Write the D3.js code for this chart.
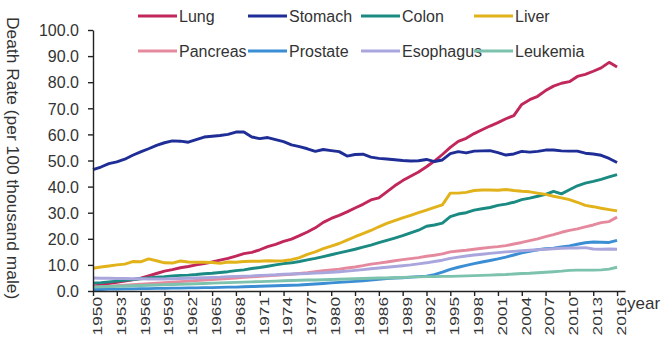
<!DOCTYPE html>
<html lang="en">
<head>
<meta charset="utf-8">
<title>Death Rate by Cancer Type</title>
<script src="https://cdn.jsdelivr.net/npm/d3@7"></script>
<style>
  body { margin: 0; background: #fff; font-family: "Liberation Sans", Arial, sans-serif; }
  svg { display: block; }
  .axis path, .axis line { stroke: #222; stroke-width: 1.4; }
  .axis text { fill: #333; font-size: 16px; font-family: "Liberation Sans", Arial, sans-serif; }
  .legend text { fill: #333; font-size: 16px; }
  .series { fill: none; stroke-width: 2.9; stroke-linejoin: round; }
</style>
</head>
<body>
<div id="chart"></div>
<script>

// data
const startYear = 1950;
const endYear = 2016;
const categories = ["Lung", "Stomach", "Colon", "Liver", "Pancreas", "Prostate", "Esophagus", "Leukemia"];
const colors = ["#c1275b", "#1f2d96", "#1b8a82", "#e2b21a", "#e58a9e", "#3b8ed4", "#a9a6dd", "#7cc2ad"];
const yTicks = [0, 10, 20, 30, 40, 50, 60, 70, 80, 90, 100];
const xTickYears = d3.range(1950, 2017, 3);

const lung = [1.8,2.3,2.8,3.3,3.8,4.3,4.9,5.8,6.7,7.6, 8.2,8.9,9.4,10.0,10.5,11.1,11.8,12.5,13.4,14.3,
  14.8,15.8,17.0,17.9,19.0,19.9,21.2,22.6,24.2,26.3, 27.8,29.0,30.3,31.8,33.2,34.9,35.7,38.0,40.3,42.3,
  44.0,45.6,47.6,49.8,52.3,55.0,57.3,58.5,60.3,61.8, 63.2,64.5,66.0,67.2,71.5,73.3,74.6,76.8,78.5,79.6,
  80.2,82.2,83.0,84.2,85.5,87.6,85.8];
const stomach = [46.5,47.5,48.8,49.5,50.5,52.0,53.3,54.5,55.8,56.8, 57.5,57.4,57.0,58.0,59.0,59.3,59.6,60.0,60.9,60.9,
  59.0,58.4,58.8,58.0,57.2,56.0,55.3,54.5,53.5,54.2, 53.8,53.4,51.7,52.3,52.4,51.3,50.8,50.6,50.3,50.0,
  49.8,49.9,50.4,49.6,50.2,52.6,53.4,52.9,53.6,53.7, 53.8,53.0,52.1,52.5,53.5,53.2,53.5,54.0,54.0,53.7,
  53.6,53.6,52.8,52.5,52.0,50.8,49.2];
const colon = [3.0,3.2,3.5,3.8,4.1,4.4,4.7,5.0,5.3,5.5, 5.8,6.0,6.1,6.3,6.6,6.8,7.1,7.4,7.8,8.1,
  8.6,9.0,9.5,10.0,10.5,10.8,11.3,11.9,12.5,13.2, 13.9,14.6,15.3,16.0,16.8,17.6,18.5,19.4,20.3,21.2,
  22.3,23.3,24.8,25.3,26.0,28.5,29.5,30.0,31.0,31.5, 32.0,32.8,33.3,34.0,35.0,35.6,36.3,37.0,38.2,37.2,
  38.8,40.3,41.3,42.0,42.8,43.7,44.6];
const liver = [8.7,9.2,9.6,10.0,10.3,11.3,11.2,12.3,11.6,10.8, 10.7,11.5,11.1,11.0,11.0,10.9,10.6,11.1,11.0,11.3,
  11.4,11.4,11.6,11.5,11.6,12.0,12.8,14.0,15.0,16.2, 17.2,18.2,19.5,20.8,22.0,23.2,24.6,25.9,27.0,28.0,
  29.0,30.0,31.0,32.0,33.0,37.5,37.5,37.8,38.5,38.7, 38.7,38.6,38.9,38.5,38.2,38.0,37.5,37.0,36.3,35.7,
  35.0,34.0,32.8,32.3,31.7,31.2,30.7];
const pancreas = [1.5,1.6,1.8,2.0,2.2,2.4,2.6,2.8,3.0,3.2, 3.4,3.6,3.8,4.0,4.2,4.4,4.6,4.8,5.0,5.2,
  5.4,5.6,5.8,6.0,6.2,6.4,6.7,7.0,7.4,7.8, 8.1,8.4,8.8,9.2,9.7,10.3,10.7,11.1,11.6,12.0,
  12.4,12.8,13.3,13.7,14.2,15.0,15.3,15.6,16.0,16.4, 16.7,17.0,17.4,18.0,18.6,19.3,20.0,20.8,21.6,22.5,
  23.2,23.8,24.6,25.3,26.2,26.6,28.3];
const prostate = [0.6,0.6,0.7,0.7,0.8,0.8,0.9,0.9,1.0,1.0, 1.1,1.1,1.2,1.2,1.3,1.3,1.4,1.5,1.5,1.6,
  1.7,1.8,1.9,2.0,2.1,2.2,2.3,2.5,2.7,2.9, 3.1,3.3,3.5,3.7,3.9,4.2,4.5,4.8,5.0,5.1,
  5.3,5.5,5.7,6.3,7.2,8.3,9.1,9.8,10.5,11.1, 11.7,12.3,13.0,13.8,14.6,15.2,15.8,16.2,16.4,16.9,
  17.3,17.9,18.5,18.8,18.7,18.6,19.4];
const esophagus = [5.0,4.9,4.9,4.8,4.8,4.7,4.7,4.6,4.6,4.6, 4.7,4.8,4.9,5.0,5.1,5.2,5.3,5.5,5.6,5.7,
  5.8,6.0,6.1,6.2,6.4,6.5,6.6,6.7,6.9,7.0, 7.2,7.4,7.6,7.9,8.2,8.5,8.8,9.1,9.4,9.7,
  10.0,10.4,10.8,11.3,11.8,12.5,13.0,13.4,13.8,14.1, 14.4,14.7,15.0,15.2,15.4,15.6,15.8,16.0,16.2,16.4,
  16.5,16.5,16.6,16.1,16.0,16.1,16.0];
const leukemia = [1.5,1.6,1.7,1.8,1.9,2.0,2.1,2.2,2.3,2.4, 2.5,2.6,2.7,2.8,2.9,3.0,3.1,3.2,3.3,3.4,
  3.5,3.6,3.7,3.8,3.9,4.0,4.1,4.2,4.2,4.3, 4.4,4.5,4.6,4.7,4.8,4.9,5.0,5.0,5.1,5.2,
  5.3,5.4,5.5,5.5,5.6,5.6,5.7,5.8,5.9,6.0, 6.1,6.2,6.3,6.5,6.7,6.8,7.0,7.2,7.4,7.6,
  7.9,8.0,8.0,8.0,8.1,8.4,9.1];

const seriesValues = [lung, stomach, colon, liver, pancreas, prostate, esophagus, leukemia];

// layout
const WIDTH = 665, HEIGHT = 340;
const plotLeft = 93, plotRight = 625, plotTop = 30, plotBottom = 291;

const years = d3.range(startYear, endYear + 1);

const svg = d3.select("#chart").append("svg")
  .attr("width", WIDTH)
  .attr("height", HEIGHT)
  .attr("viewBox", [0, 0, WIDTH, HEIGHT]);

const x = d3.scaleLinear().domain([startYear, endYear + 1]).range([plotLeft, plotRight]);
const y = d3.scaleLinear().domain([0, 100]).range([plotBottom, plotTop]);

// series
const line = d3.line()
  .x((d, i) => x(years[i]))
  .y(d => y(d));

svg.append("g")
  .selectAll("path")
  .data(seriesValues)
  .join("path")
  .attr("class", "series")
  .attr("stroke", (d, i) => colors[i])
  .attr("d", line);

// y axis
const yAxis = svg.append("g")
  .attr("class", "axis")
  .attr("transform", `translate(${plotLeft},0)`)
  .call(d3.axisLeft(y).tickValues(yTicks).tickFormat(d3.format(".1f")).tickSize(5).tickSizeOuter(0).tickPadding(9));
yAxis.selectAll("text").attr("dy", "0.36em");

// x axis
const xAxis = svg.append("g")
  .attr("class", "axis")
  .attr("transform", `translate(0,${plotBottom})`)
  .call(d3.axisBottom(x).tickValues(xTickYears).tickFormat(d3.format("d")).tickSize(5).tickSizeOuter(0));
xAxis.selectAll("text")
  .attr("y", 0)
  .attr("dy", 0)
  .attr("text-anchor", "end")
  .attr("transform", "translate(4,6) rotate(-90) scale(1.08,0.8) translate(0,5.5)");

// axis titles
svg.append("text")
  .attr("transform", "translate(7,17) rotate(90)")
  .attr("font-size", 17.4)
  .attr("fill", "#333")
  .text("Death Rate (per 100 thousand male)");

svg.append("text")
  .attr("x", 627)
  .attr("y", 309)
  .attr("font-size", 17)
  .attr("fill", "#333")
  .text("year");

// legend
const legendCols = [138, 248, 361, 474];
const legendRows = [16, 51];
const legend = svg.append("g").attr("class", "legend")
  .selectAll("g")
  .data(categories)
  .join("g")
  .attr("transform", (d, i) => `translate(${legendCols[i % 4]},${legendRows[Math.floor(i / 4)]})`);

legend.append("line")
  .attr("x1", 0).attr("x2", 39)
  .attr("y1", 0).attr("y2", 0)
  .attr("stroke", (d, i) => colors[i])
  .attr("stroke-width", 3);

legend.append("text")
  .attr("x", 41)
  .attr("dy", "0.36em")
  .text(d => d);

</script>
</body>
</html>
